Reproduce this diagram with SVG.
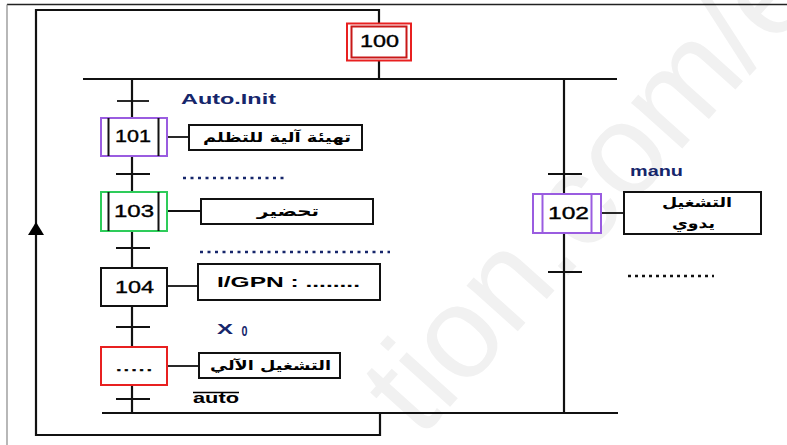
<svg xmlns="http://www.w3.org/2000/svg" width="787" height="445" viewBox="0 0 787 445">
<style>
.ln{stroke:#111;stroke-width:2.2;fill:none}
.tk{stroke:#111;stroke-width:1.8;fill:none}
.box{fill:#fff;stroke:#111;stroke-width:2}
.num{font-family:"Liberation Sans",Arial,sans-serif;font-size:16px;fill:#000;stroke:#000;stroke-width:0.35;text-anchor:middle}
.ar{font-family:"DejaVu Sans",sans-serif;font-size:13.5px;font-weight:bold;fill:#000;text-anchor:middle}
.lbl{font-family:"Liberation Sans",Arial,sans-serif;font-size:14px;font-weight:bold;fill:#16266b}
.dots{stroke:#16266b;stroke-width:2.5;stroke-dasharray:3 4.5;fill:none}
.bdots{stroke:#111;stroke-width:2.5;stroke-dasharray:3 4;fill:none}
</style>
<rect width="787" height="445" fill="#fff"/>
<text x="0" y="0" transform="translate(420,440) rotate(-48)" font-family="Liberation Sans,Arial,sans-serif" font-size="130" fill="#f1f1f1">tion.com/e</text>
<line x1="7" y1="4.5" x2="787" y2="4.5" stroke="#222" stroke-width="1.5"/>
<line x1="7" y1="4.5" x2="7" y2="445" stroke="#888" stroke-width="1.2"/>
<g id="connectors">
<polyline class="ln" points="380,413 380,435 36,435 36,10 379,10 379,23"/>
<polygon points="36,222 28,235 44,235" fill="#000"/>
<line class="ln" x1="379" y1="61" x2="379" y2="79"/>
<line class="ln" x1="83" y1="79" x2="617" y2="79"/>
<line class="ln" x1="132" y1="79" x2="132" y2="117"/>
<line class="ln" x1="132" y1="156" x2="132" y2="192"/>
<line class="ln" x1="132" y1="231" x2="132" y2="268"/>
<line class="ln" x1="132" y1="306" x2="132" y2="347"/>
<line class="ln" x1="132" y1="385" x2="132" y2="413"/>
<line class="tk" x1="117" y1="101" x2="149" y2="101"/>
<line class="tk" x1="116" y1="174" x2="150" y2="174"/>
<line class="tk" x1="116" y1="248" x2="150" y2="248"/>
<line class="tk" x1="116" y1="327" x2="150" y2="327"/>
<line class="tk" x1="116" y1="399" x2="150" y2="399"/>
<line class="ln" x1="564" y1="79" x2="564" y2="194"/>
<line class="ln" x1="564" y1="233" x2="564" y2="413"/>
<line class="tk" x1="548" y1="174" x2="582" y2="174"/>
<line class="tk" x1="548" y1="272" x2="582" y2="272"/>
<line class="ln" x1="102" y1="413" x2="618" y2="413"/>
<line class="tk" x1="167" y1="137" x2="189" y2="137"/>
<line class="tk" x1="167" y1="211" x2="201" y2="211"/>
<line class="tk" x1="167" y1="286" x2="198" y2="286"/>
<line class="tk" x1="167" y1="366" x2="199" y2="366"/>
<line class="tk" x1="601" y1="213" x2="624" y2="213"/>
</g>
<g id="labels">
<text class="lbl" x="181" y="104" textLength="95" lengthAdjust="spacingAndGlyphs">Auto.Init</text>
<line class="dots" x1="183" y1="178" x2="286" y2="178"/>
<line class="dots" x1="200" y1="252" x2="390" y2="252"/>
<text class="lbl" x="217" y="334" font-size="15" textLength="16" lengthAdjust="spacingAndGlyphs">X</text>
<text class="lbl" x="241.5" y="336" font-size="10" font-weight="normal" textLength="6" lengthAdjust="spacingAndGlyphs">0</text>
<text x="193" y="403" font-family="Liberation Sans,Arial,sans-serif" font-size="14" font-weight="bold" fill="#000" textLength="46" lengthAdjust="spacingAndGlyphs">auto</text>
<line x1="193" y1="392.5" x2="239" y2="392.5" stroke="#000" stroke-width="1.3"/>
<text class="lbl" x="630" y="176" textLength="53" lengthAdjust="spacingAndGlyphs">manu</text>
<line class="bdots" x1="628" y1="276" x2="714" y2="276"/>
</g>
<g id="s100">
<rect x="347" y="23.5" width="64" height="37" fill="#fff" stroke="#e82020" stroke-width="2"/>
<rect x="351.5" y="26.5" width="55" height="31" fill="#fff" stroke="#c81818" stroke-width="2"/>
<text class="num" x="379.5" y="46.5" font-size="16.5" textLength="39" lengthAdjust="spacingAndGlyphs">100</text>
</g>
<g id="s101">
<rect x="101" y="118" width="66" height="38" fill="#fff" stroke="#9a5ce0" stroke-width="2"/>
<line x1="108.5" y1="118" x2="108.5" y2="156" stroke="#111" stroke-width="2"/>
<line x1="158.5" y1="118" x2="158.5" y2="156" stroke="#111" stroke-width="2"/>
<text class="num" x="133" y="142" textLength="36" lengthAdjust="spacingAndGlyphs">101</text>
</g>
<g id="a101">
<rect class="box" x="189" y="125" width="173" height="25"/>
<text class="ar" x="277" y="142" textLength="148" lengthAdjust="spacingAndGlyphs">تهيئة آلية للتظلم</text>
</g>
<g id="s103">
<rect x="101" y="192" width="66" height="39" fill="#fff" stroke="#2ecc5a" stroke-width="2"/>
<line x1="108.5" y1="192" x2="108.5" y2="231" stroke="#111" stroke-width="2"/>
<line x1="158.5" y1="192" x2="158.5" y2="231" stroke="#111" stroke-width="2"/>
<text class="num" x="134" y="217" textLength="40" lengthAdjust="spacingAndGlyphs">103</text>
</g>
<g id="a103">
<rect class="box" x="201" y="199" width="172" height="25"/>
<text class="ar" x="288" y="216" textLength="62" lengthAdjust="spacingAndGlyphs">تحضير</text>
</g>
<g id="s104">
<rect class="box" x="101" y="268" width="66" height="38"/>
<text class="num" x="134.5" y="293" textLength="39" lengthAdjust="spacingAndGlyphs">104</text>
</g>
<g id="a104">
<rect class="box" x="198" y="264" width="182" height="36"/>
<text x="217" y="287" font-family="Liberation Sans,Arial,sans-serif" font-size="14" font-weight="bold" fill="#000" textLength="143" lengthAdjust="spacingAndGlyphs">I/GPN : ........</text>
</g>
<g id="s105">
<rect x="101" y="347" width="66" height="38" fill="#fff" stroke="#e82020" stroke-width="2"/>
<text class="num" x="134" y="371" textLength="38" lengthAdjust="spacingAndGlyphs">.....</text>
</g>
<g id="a105">
<rect class="box" x="199" y="353" width="141" height="25"/>
<text class="ar" x="270.5" y="370" textLength="121" lengthAdjust="spacingAndGlyphs">التشغيل الآلي</text>
</g>
<g id="s102">
<rect x="533" y="194" width="68" height="39" fill="#fff" stroke="#9a5ce0" stroke-width="2"/>
<line x1="542.5" y1="194" x2="542.5" y2="233" stroke="#9a5ce0" stroke-width="2"/>
<line x1="591.5" y1="194" x2="591.5" y2="233" stroke="#9a5ce0" stroke-width="2"/>
<text class="num" x="568.5" y="219" textLength="41" lengthAdjust="spacingAndGlyphs">102</text>
</g>
<g id="a102">
<rect class="box" x="624" y="192" width="137" height="42"/>
<text class="ar" x="697" y="207" textLength="70" lengthAdjust="spacingAndGlyphs">التشغيل</text>
<text class="ar" x="693.5" y="228" textLength="43" lengthAdjust="spacingAndGlyphs">يدوي</text>
</g>
</svg>
